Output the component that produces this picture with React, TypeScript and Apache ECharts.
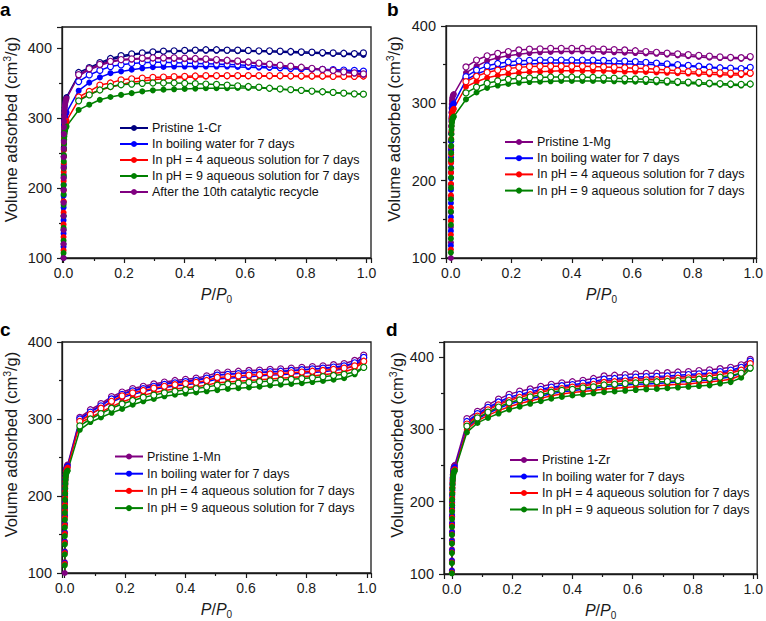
import React, { useEffect, useRef } from "react";
import * as echarts from "echarts";

// Relative pressure grid (P/P0)
const P_LOW = [0.00003, 0.00006, 0.0001, 0.00014, 0.00018, 0.00023, 0.0003, 0.00038, 0.00047, 0.00057, 0.0007, 0.00085, 0.001, 0.0012, 0.0015, 0.0019, 0.0024, 0.003, 0.0037, 0.0045, 0.0055, 0.0067, 0.0082, 0.01];
const P_MAIN = [0.05, 0.085, 0.12, 0.155, 0.19, 0.225, 0.26, 0.295, 0.33, 0.365, 0.4, 0.435, 0.47, 0.505, 0.54, 0.575, 0.61, 0.645, 0.68, 0.715, 0.75, 0.785, 0.82, 0.855, 0.89, 0.925, 0.96, 0.99];

const NAME_BW = "In boiling water for 7 days";
const NAME_P4 = "In pH = 4 aqueous solution for 7 days";
const NAME_P9 = "In pH = 9 aqueous solution for 7 days";
const NAME_RC = "After the 10th catalytic recycle";

// Panel a (1-Cr)
const A_CR_LOW = [40, 70, 100, 120, 140, 160, 180, 198, 215, 230, 245, 258, 268, 279, 289, 297, 304, 310, 315, 319, 322, 325, 328, 330];
const A_CR_ADS = [362, 370, 377, 383, 387, 390, 392, 393.5, 394.5, 395, 395.5, 396, 396, 396, 396, 395.5, 395.5, 395, 394.5, 394, 393.5, 393, 392.5, 392, 391.5, 391, 390.5, 390];
const A_CR_DES = [365, 372, 379, 385, 389, 391.5, 393, 394.5, 395.5, 396, 396.5, 397, 397.5, 397.5, 397, 397, 396.5, 396, 396, 395.5, 395, 394.5, 394, 393.5, 393, 392.5, 392, 393];
const A_BW_LOW = [40, 68, 96, 116, 135, 154, 172, 189, 205, 219, 233, 245, 255, 265, 274, 282, 289, 294, 298, 301, 303, 305, 307, 308];
const A_BW_ADS = [339, 350.5, 358, 364, 366.5, 369, 371, 372.5, 373, 373.5, 373.5, 373.5, 373.5, 373.5, 373.5, 373, 372.5, 372, 371.5, 371, 370.5, 370, 369.5, 369, 368.5, 367.5, 366.5, 366];
const A_BW_DES = [352, 361.5, 368, 373.5, 376, 378, 379, 379.5, 379.5, 379, 378.5, 378, 377.5, 377, 376.5, 376, 375, 374, 373, 372, 371, 370.5, 370, 369.5, 369, 368.5, 368, 367];
const A_P4_LOW = [38, 65, 92, 111, 130, 148, 165, 181, 196, 210, 223, 235, 245, 254, 263, 271, 277, 282, 286, 289, 291, 293, 295, 296];
const A_P4_ADS = [326, 334, 340, 344, 348, 351, 353, 354.5, 356, 357, 358, 358.5, 359, 359.5, 359.5, 359.5, 359.5, 359.5, 359.5, 359.5, 359.5, 359, 359, 359, 359, 359, 359, 359.5];
const A_P4_DES = [330, 338, 347, 350, 354.5, 356, 357, 358, 358.5, 359, 359.5, 360, 360.5, 360.5, 360.5, 360.5, 360.5, 360.5, 360.5, 360.5, 360, 360, 360, 360, 359.5, 359.5, 359.5, 360];
const A_P9_LOW = [36, 62, 88, 107, 125, 143, 160, 176, 191, 204, 217, 228, 238, 247, 256, 263, 269, 274, 278, 281, 283, 285, 287, 288];
const A_P9_ADS = [311.5, 319, 326, 330, 333, 335.5, 338, 339.5, 340.5, 341, 341.5, 342, 342.5, 342.5, 342.5, 343, 343, 343, 342, 341, 340, 339, 338, 337, 336, 335.5, 334.5, 334];
const A_P9_DES = [324.5, 333, 340, 345, 347.5, 348.5, 349.5, 350, 350, 350, 349.5, 349, 348.5, 348, 347, 346, 345, 344, 342.5, 341.5, 340.5, 339.5, 338.5, 337.5, 336.5, 335.5, 334.5, 334];
const A_RC_LOW = [40, 70, 100, 120, 140, 160, 179, 197, 214, 229, 244, 256, 266, 277, 287, 295, 302, 308, 313, 317, 320, 323, 326, 328];
const A_RC_ADS = [360, 369, 375, 380, 382.5, 383.5, 384.5, 385, 385, 384.5, 384, 383.5, 383, 382, 381, 380, 379, 377.5, 376, 374.5, 373, 371.5, 370, 368.5, 367, 365.5, 363.5, 361.5];
const A_RC_DES = [362, 370.5, 376.5, 381, 383.5, 384.5, 385.5, 386, 386, 386, 385.5, 385, 384.5, 383.5, 382.5, 381.5, 380, 378.5, 377, 375.5, 374, 372.5, 371, 369.5, 368, 366, 364.5, 363];

// Panel b (1-Mg)
const B_MG_LOW = [40, 70, 100, 120, 140, 159, 178, 195, 211, 225, 239, 251, 261, 271, 280, 288, 294, 299, 303, 306, 308, 310, 311, 312];
const B_MG_ADS = [339.5, 348, 355, 359, 361.5, 363.5, 365, 366, 366.5, 367, 367, 367, 367, 366.5, 366, 365.5, 365, 364.5, 364, 363, 362, 361, 360, 359, 358.5, 358, 357.5, 359];
const B_MG_DES = [347, 356, 361.5, 364.5, 367, 369, 370, 370.5, 371, 371, 371, 371, 370.5, 370, 369.5, 369, 368, 367, 366, 365, 364, 363, 362, 361, 360, 359.5, 359, 360.5];
const B_BW_LOW = [40, 68, 96, 116, 135, 153, 171, 188, 203, 217, 230, 241, 251, 261, 270, 277, 283, 288, 292, 295, 297, 298, 299, 300];
const B_BW_ADS = [330, 338, 343, 346, 348.5, 350, 351, 351.5, 352, 352, 352, 352, 352, 351.5, 351.5, 351, 351, 350.5, 350, 349, 348.5, 348, 347, 346, 345.5, 345, 344.5, 346];
const B_BW_DES = [334.5, 343, 348.5, 351.5, 353.5, 355, 355.5, 356, 356, 356, 356, 356, 356, 355.5, 355, 354.5, 354, 353, 352, 351, 350, 349, 348, 347, 346, 345.5, 345, 346.5];
const B_P4_LOW = [38, 65, 92, 111, 130, 148, 165, 181, 196, 210, 223, 234, 244, 254, 263, 270, 276, 281, 285, 288, 290, 291, 292, 293];
const B_P4_ADS = [321.5, 328, 333, 336, 338, 339.5, 340.5, 341, 341.5, 342, 342, 342, 342, 342, 341.5, 341, 341, 340.5, 340, 339.5, 339, 338.5, 338, 337.5, 337, 336.5, 336.5, 338];
const B_P4_DES = [328, 335, 340, 343, 345, 346.5, 347.5, 348, 348, 348, 348, 348, 347.5, 347, 346.5, 346, 345.5, 345, 344, 343, 342, 341, 340.5, 340, 339.5, 339, 338.5, 339];
const B_P9_LOW = [36, 62, 88, 107, 125, 143, 160, 176, 191, 204, 216, 227, 236, 245, 253, 260, 266, 271, 275, 278, 280, 281, 282, 283];
const B_P9_ADS = [305, 314, 320, 323, 325, 326.5, 327.5, 328, 328.5, 329, 329, 329, 329, 329, 328.5, 328, 328, 327.5, 327, 326.5, 326, 325.5, 325, 324.5, 324, 323.5, 323, 324.5];
const B_P9_DES = [313.5, 321, 326, 329, 331, 332.5, 333, 333.5, 334, 334, 334, 334, 333.5, 333, 332.5, 332, 331.5, 331, 330, 329, 328, 327.5, 327, 326, 325.5, 325, 324.5, 325];

// Panel c (1-Mn)
const C_MN_LOW = [30, 50, 70, 85, 100, 114, 128, 141, 153, 164, 175, 185, 193, 202, 210, 217, 223, 228, 232, 235, 237, 239, 240, 241];
const C_MN_ADS = [300, 310, 318, 327, 333, 337.5, 340.5, 343.5, 346, 348, 349.5, 351, 353.5, 357, 358, 359, 360, 360.5, 361, 361.5, 362.5, 363.5, 364.5, 365.5, 366.5, 368, 372, 381];
const C_MN_DES = [302, 312, 320, 329, 335, 339.5, 342.5, 345.5, 348, 350, 351.5, 353, 356, 360, 361, 362, 363, 363.5, 364.5, 365, 366, 367, 368, 369, 370.5, 372, 376, 383];
const C_BW_LOW = [30, 50, 69, 84, 99, 113, 127, 140, 152, 163, 174, 183, 191, 200, 208, 215, 221, 226, 230, 233, 235, 237, 238, 239];
const C_BW_ADS = [298, 306, 314, 322, 328, 332, 335.5, 338.5, 341, 343, 344.5, 346, 348.5, 352, 353, 354, 355, 356, 357, 357.5, 358.5, 359.5, 360.5, 361.5, 363, 365, 369, 378];
const C_BW_DES = [300, 309, 317, 326, 332, 336.5, 339.5, 342.5, 345, 347, 348.5, 350, 353, 357, 358, 359, 360, 360.5, 361.5, 362, 363, 364, 365, 366, 367.5, 369, 373, 380];
const C_P4_LOW = [29, 49, 68, 83, 98, 112, 126, 139, 151, 162, 172, 181, 189, 198, 206, 213, 219, 224, 228, 231, 233, 235, 236, 237];
const C_P4_ADS = [295, 302, 309, 316, 322, 327, 331, 334, 337, 339, 340.5, 342, 344, 347, 348, 349, 350, 351, 352, 353, 354, 355, 356, 357.5, 359, 361, 366, 374];
const C_P4_DES = [297, 306, 314, 323, 330, 334, 337, 340, 342.5, 344.5, 346, 347.5, 350, 354, 355, 356, 357, 357.5, 358.5, 359, 360, 361, 362, 363, 364.5, 366, 369, 375];
const C_P9_LOW = [28, 47, 66, 81, 96, 110, 124, 137, 148, 159, 169, 178, 186, 195, 203, 210, 216, 221, 225, 228, 230, 231, 232, 233];
const C_P9_ADS = [286, 296, 302, 308, 313, 318.5, 323, 326, 329.5, 331.5, 333, 334.5, 336, 337.5, 339, 340, 341, 342, 343.5, 344.5, 345.5, 346.5, 348, 349.5, 351, 353, 358, 367];
const C_P9_DES = [291, 300, 307, 314, 319.5, 324, 328, 331, 334, 336, 338, 339.5, 341.5, 344, 345.5, 346.5, 347.5, 348.5, 349.5, 350.5, 351.5, 352.5, 353.5, 355, 356.5, 358, 361, 367];

// Panel d (1-Zr)
const D_ZR_LOW = [30, 52, 73, 89, 105, 119, 134, 147, 159, 171, 182, 192, 201, 210, 219, 226, 232, 237, 241, 244, 247, 249, 250, 251];
const D_ZR_ADS = [309.5, 320, 328.5, 336, 342, 346.5, 350, 353.5, 356.5, 358.5, 360.5, 362, 364.5, 367, 368, 369, 370, 371, 371.5, 372, 373, 373.5, 375, 376, 378, 380, 384, 393];
const D_ZR_DES = [315, 325, 334, 342, 348.5, 353, 356, 359.5, 362.5, 364.5, 366, 368, 370.5, 374, 375, 376, 377, 377.5, 378, 378.5, 379.5, 380, 381.5, 382.5, 384, 386, 389.5, 397];
const D_BW_LOW = [30, 51, 72, 88, 104, 118, 132, 145, 157, 169, 180, 190, 199, 208, 216, 223, 229, 234, 238, 241, 244, 246, 247, 248];
const D_BW_ADS = [302.5, 314.5, 322.5, 329, 335, 339, 342.5, 346, 349.5, 352, 353.5, 355.5, 357, 359.5, 360.5, 361.5, 362.5, 363, 363.5, 364.5, 365.5, 366.5, 367.5, 368.5, 370.5, 372.5, 378, 388.5];
const D_BW_DES = [311, 322, 330.5, 338, 344.5, 348.5, 352, 355.5, 358.5, 360.5, 362, 364, 366.5, 369.5, 370.5, 371.5, 372.5, 373, 373.5, 374, 375, 376, 377, 378, 380, 382, 386, 394.5];
const D_P4_LOW = [29, 50, 71, 87, 102, 116, 130, 143, 155, 167, 178, 188, 197, 205, 213, 220, 226, 231, 235, 238, 241, 243, 244, 245];
const D_P4_ADS = [300, 312, 319.5, 326, 331.5, 336, 339.5, 343, 346.5, 349, 351, 352.5, 354, 356, 357, 358, 359, 360, 360.5, 361.5, 362.5, 363, 364.5, 365.5, 367.5, 369.5, 375, 386.5];
const D_P4_DES = [307.5, 318.5, 327, 334, 340, 344.5, 348, 351.5, 354.5, 356.5, 358.5, 360, 362.5, 365, 366, 367, 368, 368.5, 369, 370, 371, 371.5, 373, 374, 376, 378, 382, 391];
const D_P9_LOW = [28, 49, 70, 86, 101, 115, 129, 142, 154, 165, 176, 186, 195, 203, 211, 218, 224, 229, 233, 236, 239, 241, 242, 243];
const D_P9_ADS = [296, 309, 316, 322, 327.5, 331.5, 335.5, 339, 342.5, 345, 347, 348.5, 350, 351.5, 352.5, 353.5, 354.5, 355.5, 356, 357, 358, 359, 360, 361, 363.5, 365.5, 371.5, 384];
const D_P9_DES = [304.5, 316, 324, 331, 337, 341, 345, 348, 351.5, 354, 355.5, 357.5, 359, 361.5, 362.5, 363.5, 364.5, 365.5, 366, 366.5, 367.5, 368.5, 369.5, 370.5, 372.5, 374.5, 378, 385];

const NAVY = "#000080";
const BLUE = "#0000ff";
const RED = "#ff0000";
const GREEN = "#008000";
const PURPLE = "#800080";

const FONT = '"Liberation Sans", Arial, Helvetica, sans-serif';
const INK = "#1a1a1a";

type Curve = { name: string; color: string; low: number[]; ads: number[]; des: number[] };

const PANELS: { curves: Curve[]; legend: string[] }[] = [
  {
    curves: [
      { name: "Pristine 1-Cr", color: NAVY, low: A_CR_LOW, ads: A_CR_ADS, des: A_CR_DES },
      { name: NAME_BW, color: BLUE, low: A_BW_LOW, ads: A_BW_ADS, des: A_BW_DES },
      { name: NAME_P4, color: RED, low: A_P4_LOW, ads: A_P4_ADS, des: A_P4_DES },
      { name: NAME_P9, color: GREEN, low: A_P9_LOW, ads: A_P9_ADS, des: A_P9_DES },
      { name: NAME_RC, color: PURPLE, low: A_RC_LOW, ads: A_RC_ADS, des: A_RC_DES },
    ],
    legend: ["Pristine 1-Cr", NAME_BW, NAME_P4, NAME_P9, NAME_RC],
  },
  {
    curves: [
      { name: "Pristine 1-Mg", color: PURPLE, low: B_MG_LOW, ads: B_MG_ADS, des: B_MG_DES },
      { name: NAME_BW, color: BLUE, low: B_BW_LOW, ads: B_BW_ADS, des: B_BW_DES },
      { name: NAME_P4, color: RED, low: B_P4_LOW, ads: B_P4_ADS, des: B_P4_DES },
      { name: NAME_P9, color: GREEN, low: B_P9_LOW, ads: B_P9_ADS, des: B_P9_DES },
    ],
    legend: ["Pristine 1-Mg", NAME_BW, NAME_P4, NAME_P9],
  },
  {
    curves: [
      { name: "Pristine 1-Mn", color: PURPLE, low: C_MN_LOW, ads: C_MN_ADS, des: C_MN_DES },
      { name: NAME_BW, color: BLUE, low: C_BW_LOW, ads: C_BW_ADS, des: C_BW_DES },
      { name: NAME_P4, color: RED, low: C_P4_LOW, ads: C_P4_ADS, des: C_P4_DES },
      { name: NAME_P9, color: GREEN, low: C_P9_LOW, ads: C_P9_ADS, des: C_P9_DES },
    ],
    legend: ["Pristine 1-Mn", NAME_BW, NAME_P4, NAME_P9],
  },
  {
    curves: [
      { name: "Pristine 1-Zr", color: PURPLE, low: D_ZR_LOW, ads: D_ZR_ADS, des: D_ZR_DES },
      { name: NAME_BW, color: BLUE, low: D_BW_LOW, ads: D_BW_ADS, des: D_BW_DES },
      { name: NAME_P4, color: RED, low: D_P4_LOW, ads: D_P4_ADS, des: D_P4_DES },
      { name: NAME_P9, color: GREEN, low: D_P9_LOW, ads: D_P9_ADS, des: D_P9_DES },
    ],
    legend: ["Pristine 1-Zr", NAME_BW, NAME_P4, NAME_P9],
  },
];

const GRIDS = [
  { left: 61, top: 27, width: 310, height: 231 },
  { left: 446, top: 26, width: 313, height: 232 },
  { left: 60, top: 342, width: 311, height: 231 },
  { left: 444, top: 342, width: 316, height: 232 },
];
const X_RANGE = [
  [-0.005, 1.015],
  [-0.016, 1.011],
  [-0.009, 1.014],
  [-0.026, 1.013],
];
const Y_MAX = [430, 400, 400, 421];
const Y_NAME_GAP = [41, 42, 41, 37];
const LEGEND_POS = [
  { left: 119, top: 121.5, gap: 3 },
  { left: 504, top: 135.5, gap: 3.2 },
  { left: 114, top: 450, gap: 4.2 },
  { left: 509, top: 453.5, gap: 3.5 },
];
const PANEL_LETTERS = [
  { t: "a", x: 0, y: 0 },
  { t: "b", x: 387, y: 0 },
  { t: "c", x: 0, y: 320 },
  { t: "d", x: 386, y: 320 },
];

function buildOption() {
  const series: any[] = [];
  PANELS.forEach((panel, gi) => {
    panel.curves.forEach((c) => {
      const adsData = [
        ...P_LOW.map((x, i) => [x, c.low[i]]),
        ...P_MAIN.map((x, i) => [x, c.ads[i]]),
      ];
      const desData = P_MAIN.map((x, i) => [x, c.des[i]]).reverse();
      series.push({
        type: "line",
        name: c.name,
        xAxisIndex: gi,
        yAxisIndex: gi,
        data: adsData,
        symbol: "circle",
        symbolSize: 6,
        clip: true,
        lineStyle: { color: c.color, width: 1.5 },
        itemStyle: { color: c.color },
        emphasis: { disabled: true },
      });
      series.push({
        type: "line",
        name: c.name + " (desorption)",
        xAxisIndex: gi,
        yAxisIndex: gi,
        data: desData,
        symbol: "circle",
        symbolSize: 6,
        clip: true,
        lineStyle: { color: c.color, width: 1.5 },
        itemStyle: { color: "#ffffff", borderColor: c.color, borderWidth: 1.2 },
        emphasis: { disabled: true },
      });
    });
  });

  const xFmt = (v: number) => (Math.abs(v * 5 - Math.round(v * 5)) < 1e-6 ? v.toFixed(1) : "");
  const yFmt = (v: number) => (Math.abs(v % 100) < 1e-6 ? String(v) : "");

  return {
    animation: false,
    backgroundColor: "#ffffff",
    textStyle: { fontFamily: FONT },
    grid: GRIDS.map((g) => ({
      ...g,
      show: true,
      borderColor: INK,
      borderWidth: 1.3,
      backgroundColor: "transparent",
      containLabel: false,
    })),
    xAxis: GRIDS.map((_, gi) => ({
      type: "value",
      gridIndex: gi,
      min: X_RANGE[gi][0],
      max: X_RANGE[gi][1],
      splitNumber: 5,
      splitLine: { show: false },
      axisLine: { show: true, onZero: false, lineStyle: { color: INK, width: 1.3 } },
      axisTick: { show: true, inside: false, length: 5, lineStyle: { color: INK, width: 1.2 } },
      minorTick: { show: true, splitNumber: 2, length: 3, lineStyle: { color: INK, width: 1.2 } },
      axisLabel: { fontSize: 14, color: INK, margin: 8, fontFamily: FONT, formatter: xFmt },
      name: "{i|P}/{i|P}{sub|0}",
      nameLocation: "middle",
      nameGap: 27,
      nameTextStyle: {
        color: INK,
        fontSize: 16,
        fontFamily: FONT,
        rich: {
          i: { fontStyle: "italic", fontSize: 16, color: INK, fontFamily: FONT },
          sub: { fontSize: 10, color: INK, fontFamily: FONT, padding: [9, 0, 0, 0] },
        },
      },
    })),
    yAxis: GRIDS.map((_, gi) => ({
      type: "value",
      gridIndex: gi,
      min: 100,
      max: Y_MAX[gi],
      interval: 100,
      splitLine: { show: false },
      axisLine: { show: true, onZero: false, lineStyle: { color: INK, width: 1.3 } },
      axisTick: { show: true, inside: false, length: 5, lineStyle: { color: INK, width: 1.2 } },
      minorTick: { show: true, splitNumber: 2, length: 3, lineStyle: { color: INK, width: 1.2 } },
      axisLabel: { fontSize: 14.5, color: INK, margin: 10, fontFamily: FONT, formatter: yFmt },
      name: "Volume adsorbed (cm{sup|3}/g)",
      nameLocation: "middle",
      nameGap: Y_NAME_GAP[gi],
      nameTextStyle: {
        color: INK,
        fontSize: 16.5,
        fontFamily: FONT,
        padding: [0, 0, 0, 26],
        rich: {
          sup: { fontSize: 10.5, color: INK, fontFamily: FONT, padding: [0, 0, 9, 0] },
        },
      },
    })),
    legend: PANELS.map((p, gi) => ({
      orient: "vertical",
      left: LEGEND_POS[gi].left,
      top: LEGEND_POS[gi].top,
      itemWidth: 28,
      itemHeight: 7.5,
      itemGap: LEGEND_POS[gi].gap,
      padding: 0,
      selectedMode: false,
      data: p.legend,
      textStyle: { fontSize: 12.5, color: "#111111", fontFamily: FONT, padding: [0, 0, 0, -1] },
    })),
    graphic: PANEL_LETTERS.map((l) => ({
      type: "text",
      x: l.x,
      y: l.y,
      style: {
        text: l.t,
        fill: "#000000",
        font: `bold 19px ${FONT}`,
        textVerticalAlign: "top",
      },
    })),
    series,
  };
}

export default function App() {
  const ref = useRef<HTMLDivElement>(null);
  useEffect(() => {
    if (!ref.current) return;
    const chart = echarts.init(ref.current, undefined, { renderer: "svg" });
    chart.setOption(buildOption() as any);
    return () => chart.dispose();
  }, []);
  return (
    <div
      ref={ref}
      style={{ position: "absolute", left: 0, top: 0, width: 766, height: 621, background: "#fff" }}
    />
  );
}
